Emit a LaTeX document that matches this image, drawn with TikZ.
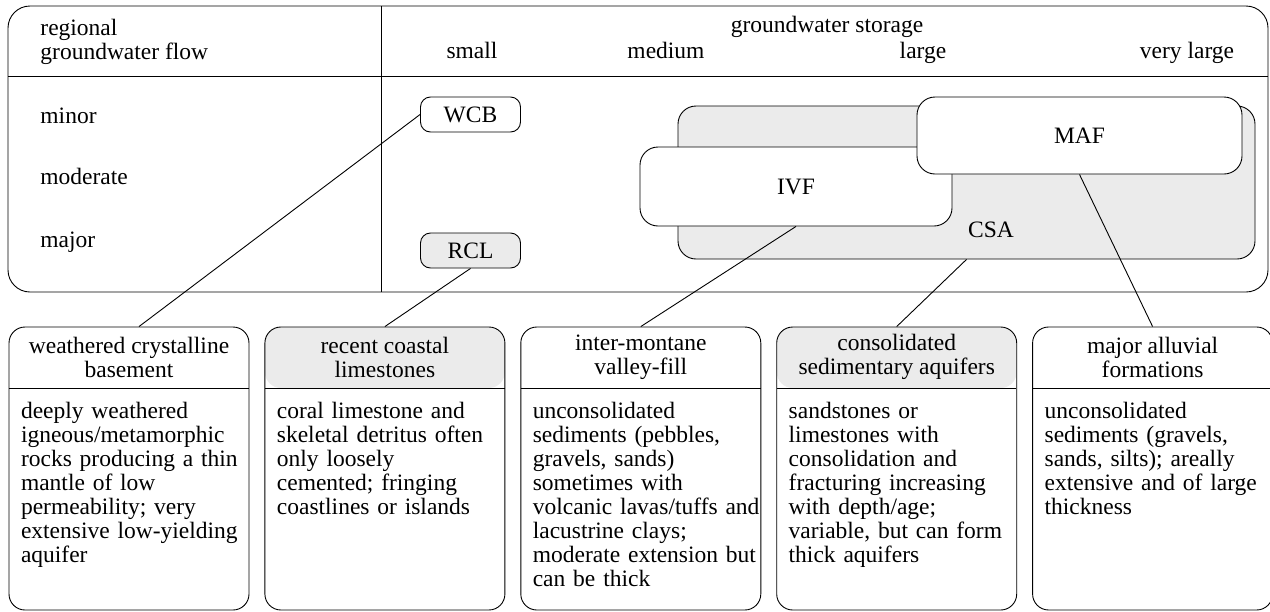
\documentclass[tikz,border=0pt]{standalone}
\usepackage{fontspec}
\setmainfont{Liberation Serif}
\usetikzlibrary{positioning}

\definecolor{boxgray}{gray}{0.92}

\tikzset{
	flowtext/.style={font=\fontsize{23.5}{24}\selectfont, inner sep=0pt},
	tag/.style={flowtext, draw, rounded corners=10pt, minimum width=100pt, minimum height=35pt},
	region/.style={flowtext, draw, rounded corners=18pt},
	panel/.style={draw, rounded corners=16pt, minimum width=240pt, minimum height=283pt, inner sep=0pt,
		path picture={
			\fill[#1] (path picture bounding box.north west) rectangle ([yshift=-61pt]path picture bounding box.north east);
			\draw ([yshift=-61pt]path picture bounding box.north west) -- ([yshift=-61pt]path picture bounding box.north east);
		}},
	panel/.default=white,
	paneltitle/.style={flowtext, align=center},
	paneltext/.style={flowtext, align=left, text width=232pt, anchor=base west}
}

\begin{document}
\begin{tikzpicture}[x=1pt, y=-1pt, line width=0.9pt]

	\useasboundingbox (0,0) rectangle (1270,611);

	%chart frame
	\draw[rounded corners=22pt] (8,6) rectangle (1268,292);
	\draw (8,76) -- (1268,76);
	\draw (381,6) -- (381,292);

	%axis labels
	\node[flowtext, anchor=west, align=left] (FlowHead) at (40,42) {regional\\groundwater flow};
	\node[flowtext, anchor=base] (StoreHead) at (827,32) {groundwater storage};
	\node[flowtext, anchor=base] (Small) at (472,58) {small};
	\node[flowtext, anchor=base] (Medium) at (666,58) {medium};
	\node[flowtext, anchor=base] (Large) at (923,58) {large};
	\node[flowtext, anchor=base] (VeryLarge) at (1187,58) {very large};
	\node[flowtext, anchor=base west] (Minor) at (40,123) {minor};
	\node[flowtext, anchor=base west] (Moderate) at (40,184) {moderate};
	\node[flowtext, anchor=base west] (Major) at (40,247) {major};

	%aquifer types in the chart
	\node[tag] (WCB) at (470.5,114.5) {WCB};
	\node[tag, fill=boxgray] (RCL) at (470.5,250.5) {RCL};
	\node[region, fill=boxgray, minimum width=577pt, minimum height=153pt] (CSA) at (966.5,182.5) {};
	\node[flowtext] (CSALabel) at (991,230) {CSA};
	\node[region, fill=white, minimum width=312pt, minimum height=79pt] (IVF) at (796,186.5) {IVF};
	\node[region, fill=white, minimum width=325pt, minimum height=77pt] (MAF) at (1079.5,135.5) {MAF};

	%description panels
	\node[panel] (Basement) at (129,468.5) {};
	\node[panel=boxgray, right=15pt of Basement] (Coastal) {};
	\node[panel, right=15pt of Coastal] (Valley) {};
	\node[panel=boxgray, right=15pt of Valley] (Sedimentary) {};
	\node[panel, right=15pt of Sedimentary] (Alluvial) {};

	\node[paneltitle] (BasementTitle) at ([yshift=-30.5pt]Basement.north) {weathered crystalline\\basement};
	\node[paneltitle] (CoastalTitle) at ([yshift=-30.5pt]Coastal.north) {recent coastal\\limestones};
	\node[paneltitle] (ValleyTitle) at ([yshift=-30.5pt]Valley.north) {inter-montane\\valley-fill};
	\node[paneltitle] (SedimentaryTitle) at ([yshift=-30.5pt]Sedimentary.north) {consolidated\\sedimentary aquifers};
	\node[paneltitle] (AlluvialTitle) at ([yshift=-30.5pt]Alluvial.north) {major alluvial\\formations};

	\node[paneltext] (BasementText) at ([xshift=12pt, yshift=-92pt]Basement.north west)
		{deeply weathered\\igneous/metamorphic\\rocks producing a thin\\mantle of low\\permeability; very\\extensive low-yielding\\aquifer};
	\node[paneltext] (CoastalText) at ([xshift=12pt, yshift=-92pt]Coastal.north west)
		{coral limestone and\\skeletal detritus often\\only loosely\\cemented; fringing\\coastlines or islands};
	\node[paneltext] (ValleyText) at ([xshift=12pt, yshift=-92pt]Valley.north west)
		{unconsolidated\\sediments (pebbles,\\gravels, sands)\\sometimes with\\volcanic lavas/tuffs and\\lacustrine clays;\\moderate extension but\\can be thick};
	\node[paneltext] (SedimentaryText) at ([xshift=12pt, yshift=-92pt]Sedimentary.north west)
		{sandstones or\\limestones with\\consolidation and\\fracturing increasing\\with depth/age;\\variable, but can form\\thick aquifers};
	\node[paneltext] (AlluvialText) at ([xshift=12pt, yshift=-92pt]Alluvial.north west)
		{unconsolidated\\sediments (gravels,\\sands, silts); areally\\extensive and of large\\thickness};

	%links from chart to panels
	\draw (WCB.west) -- ([xshift=10pt]Basement.north);
	\draw (RCL.south) -- (Coastal.north);
	\draw (IVF.south) -- (Valley.north);
	\draw (CSA.south) -- (Sedimentary.north);
	\draw (MAF.south) -- (Alluvial.north);
\end{tikzpicture}
\end{document}
